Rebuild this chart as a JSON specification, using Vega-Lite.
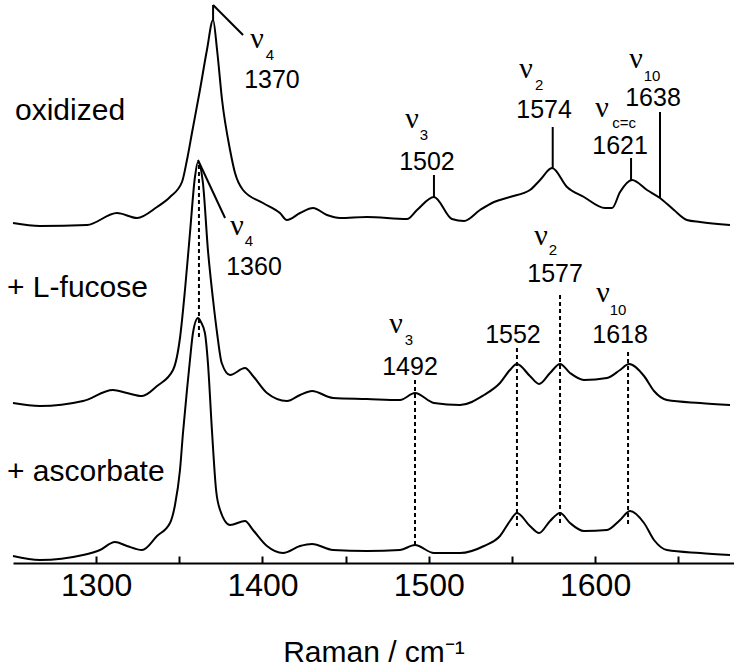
{
  "$schema": "https://vega.github.io/schema/vega-lite/v6.json",
  "width": 721,
  "height": 563,
  "autosize": {"type": "none"},
  "padding": {"left": 13, "top": 0, "right": 0, "bottom": 104},
  "background": "white",
  "config": {
    "view": {"stroke": null},
    "font": "Liberation Sans",
    "text": {"font": "Liberation Sans", "color": "black"}
  },
  "datasets": {
    "spectra": [
      {"sample": "oxidized", "wn": 1250, "intensity": 340},
      {"sample": "oxidized", "wn": 1266.2, "intensity": 337},
      {"sample": "oxidized", "wn": 1294.5, "intensity": 338},
      {"sample": "oxidized", "wn": 1312.5, "intensity": 350},
      {"sample": "oxidized", "wn": 1324.6, "intensity": 345},
      {"sample": "oxidized", "wn": 1336.6, "intensity": 356},
      {"sample": "oxidized", "wn": 1344.4, "intensity": 366},
      {"sample": "oxidized", "wn": 1351.6, "intensity": 381},
      {"sample": "oxidized", "wn": 1354.6, "intensity": 403},
      {"sample": "oxidized", "wn": 1357.6, "intensity": 430},
      {"sample": "oxidized", "wn": 1362.4, "intensity": 473},
      {"sample": "oxidized", "wn": 1366.6, "intensity": 513},
      {"sample": "oxidized", "wn": 1370.3, "intensity": 543},
      {"sample": "oxidized", "wn": 1372.7, "intensity": 513},
      {"sample": "oxidized", "wn": 1375.7, "intensity": 463},
      {"sample": "oxidized", "wn": 1380.5, "intensity": 413},
      {"sample": "oxidized", "wn": 1383.5, "intensity": 390},
      {"sample": "oxidized", "wn": 1388.3, "intensity": 373},
      {"sample": "oxidized", "wn": 1400.3, "intensity": 360},
      {"sample": "oxidized", "wn": 1410.5, "intensity": 350},
      {"sample": "oxidized", "wn": 1414.7, "intensity": 343},
      {"sample": "oxidized", "wn": 1422.6, "intensity": 350},
      {"sample": "oxidized", "wn": 1430.4, "intensity": 355},
      {"sample": "oxidized", "wn": 1438.8, "intensity": 348},
      {"sample": "oxidized", "wn": 1446.6, "intensity": 345},
      {"sample": "oxidized", "wn": 1462.8, "intensity": 346},
      {"sample": "oxidized", "wn": 1486.9, "intensity": 344},
      {"sample": "oxidized", "wn": 1492.9, "intensity": 353},
      {"sample": "oxidized", "wn": 1503.1, "intensity": 366},
      {"sample": "oxidized", "wn": 1513.9, "intensity": 344},
      {"sample": "oxidized", "wn": 1521.2, "intensity": 342},
      {"sample": "oxidized", "wn": 1530.8, "intensity": 353},
      {"sample": "oxidized", "wn": 1539.2, "intensity": 361},
      {"sample": "oxidized", "wn": 1548.8, "intensity": 366},
      {"sample": "oxidized", "wn": 1560.8, "intensity": 373},
      {"sample": "oxidized", "wn": 1566.9, "intensity": 383},
      {"sample": "oxidized", "wn": 1574.1, "intensity": 395},
      {"sample": "oxidized", "wn": 1583.1, "intensity": 376},
      {"sample": "oxidized", "wn": 1593.3, "intensity": 366},
      {"sample": "oxidized", "wn": 1605.9, "intensity": 355},
      {"sample": "oxidized", "wn": 1610.2, "intensity": 355},
      {"sample": "oxidized", "wn": 1615, "intensity": 371},
      {"sample": "oxidized", "wn": 1622.2, "intensity": 383},
      {"sample": "oxidized", "wn": 1631.2, "intensity": 373},
      {"sample": "oxidized", "wn": 1639, "intensity": 365},
      {"sample": "oxidized", "wn": 1647.4, "intensity": 353},
      {"sample": "oxidized", "wn": 1655.2, "intensity": 343},
      {"sample": "oxidized", "wn": 1663.1, "intensity": 341},
      {"sample": "oxidized", "wn": 1681.1, "intensity": 338},

      {"sample": "L-fucose", "wn": 1250, "intensity": 160},
      {"sample": "L-fucose", "wn": 1266.2, "intensity": 157},
      {"sample": "L-fucose", "wn": 1292.1, "intensity": 162},
      {"sample": "L-fucose", "wn": 1310.1, "intensity": 173},
      {"sample": "L-fucose", "wn": 1318.5, "intensity": 170},
      {"sample": "L-fucose", "wn": 1327.6, "intensity": 167},
      {"sample": "L-fucose", "wn": 1336.6, "intensity": 177},
      {"sample": "L-fucose", "wn": 1346.2, "intensity": 193},
      {"sample": "L-fucose", "wn": 1350.4, "intensity": 225},
      {"sample": "L-fucose", "wn": 1353.4, "intensity": 273},
      {"sample": "L-fucose", "wn": 1356.4, "intensity": 330},
      {"sample": "L-fucose", "wn": 1359.4, "intensity": 386},
      {"sample": "L-fucose", "wn": 1361.2, "intensity": 401},
      {"sample": "L-fucose", "wn": 1364.2, "intensity": 380},
      {"sample": "L-fucose", "wn": 1367.2, "intensity": 313},
      {"sample": "L-fucose", "wn": 1370.3, "intensity": 263},
      {"sample": "L-fucose", "wn": 1372.7, "intensity": 230},
      {"sample": "L-fucose", "wn": 1375.5, "intensity": 200},
      {"sample": "L-fucose", "wn": 1380.5, "intensity": 188},
      {"sample": "L-fucose", "wn": 1389.5, "intensity": 195},
      {"sample": "L-fucose", "wn": 1394.3, "intensity": 187},
      {"sample": "L-fucose", "wn": 1402.7, "intensity": 170},
      {"sample": "L-fucose", "wn": 1414.7, "intensity": 162},
      {"sample": "L-fucose", "wn": 1422.6, "intensity": 168},
      {"sample": "L-fucose", "wn": 1429.8, "intensity": 172},
      {"sample": "L-fucose", "wn": 1442.4, "intensity": 165},
      {"sample": "L-fucose", "wn": 1462.8, "intensity": 164},
      {"sample": "L-fucose", "wn": 1482.7, "intensity": 163},
      {"sample": "L-fucose", "wn": 1491.7, "intensity": 170},
      {"sample": "L-fucose", "wn": 1503.1, "intensity": 160},
      {"sample": "L-fucose", "wn": 1518.8, "intensity": 158},
      {"sample": "L-fucose", "wn": 1533.2, "intensity": 168},
      {"sample": "L-fucose", "wn": 1542.8, "intensity": 180},
      {"sample": "L-fucose", "wn": 1548.8, "intensity": 193},
      {"sample": "L-fucose", "wn": 1553, "intensity": 199},
      {"sample": "L-fucose", "wn": 1560.8, "intensity": 187},
      {"sample": "L-fucose", "wn": 1566.3, "intensity": 179},
      {"sample": "L-fucose", "wn": 1572.9, "intensity": 190},
      {"sample": "L-fucose", "wn": 1578.9, "intensity": 199},
      {"sample": "L-fucose", "wn": 1584.9, "intensity": 190},
      {"sample": "L-fucose", "wn": 1593.3, "intensity": 183},
      {"sample": "L-fucose", "wn": 1607.1, "intensity": 185},
      {"sample": "L-fucose", "wn": 1615, "intensity": 193},
      {"sample": "L-fucose", "wn": 1620.4, "intensity": 199},
      {"sample": "L-fucose", "wn": 1629.4, "intensity": 187},
      {"sample": "L-fucose", "wn": 1635.4, "intensity": 172},
      {"sample": "L-fucose", "wn": 1643.2, "intensity": 163},
      {"sample": "L-fucose", "wn": 1663.1, "intensity": 160},
      {"sample": "L-fucose", "wn": 1681.1, "intensity": 158},

      {"sample": "ascorbate", "wn": 1250, "intensity": 7},
      {"sample": "ascorbate", "wn": 1266.2, "intensity": 3},
      {"sample": "ascorbate", "wn": 1292.1, "intensity": 8},
      {"sample": "ascorbate", "wn": 1302.3, "intensity": 13},
      {"sample": "ascorbate", "wn": 1311.3, "intensity": 21},
      {"sample": "ascorbate", "wn": 1318.5, "intensity": 17},
      {"sample": "ascorbate", "wn": 1327.6, "intensity": 13},
      {"sample": "ascorbate", "wn": 1336.6, "intensity": 27},
      {"sample": "ascorbate", "wn": 1344.4, "intensity": 40},
      {"sample": "ascorbate", "wn": 1347.4, "intensity": 58},
      {"sample": "ascorbate", "wn": 1350.4, "intensity": 93},
      {"sample": "ascorbate", "wn": 1352.2, "intensity": 130},
      {"sample": "ascorbate", "wn": 1354.6, "intensity": 173},
      {"sample": "ascorbate", "wn": 1356.4, "intensity": 203},
      {"sample": "ascorbate", "wn": 1358.2, "intensity": 230},
      {"sample": "ascorbate", "wn": 1361.2, "intensity": 245},
      {"sample": "ascorbate", "wn": 1363, "intensity": 241},
      {"sample": "ascorbate", "wn": 1365.4, "intensity": 230},
      {"sample": "ascorbate", "wn": 1367.2, "intensity": 200},
      {"sample": "ascorbate", "wn": 1369.6, "intensity": 133},
      {"sample": "ascorbate", "wn": 1372.1, "intensity": 73},
      {"sample": "ascorbate", "wn": 1374.5, "intensity": 53},
      {"sample": "ascorbate", "wn": 1380.5, "intensity": 38},
      {"sample": "ascorbate", "wn": 1389.5, "intensity": 42},
      {"sample": "ascorbate", "wn": 1394.3, "intensity": 33},
      {"sample": "ascorbate", "wn": 1402.7, "intensity": 17},
      {"sample": "ascorbate", "wn": 1412.3, "intensity": 10},
      {"sample": "ascorbate", "wn": 1422.6, "intensity": 17},
      {"sample": "ascorbate", "wn": 1429.8, "intensity": 19},
      {"sample": "ascorbate", "wn": 1442.4, "intensity": 13},
      {"sample": "ascorbate", "wn": 1462.8, "intensity": 12},
      {"sample": "ascorbate", "wn": 1482.7, "intensity": 13},
      {"sample": "ascorbate", "wn": 1491.7, "intensity": 18},
      {"sample": "ascorbate", "wn": 1503.1, "intensity": 10},
      {"sample": "ascorbate", "wn": 1518.8, "intensity": 10},
      {"sample": "ascorbate", "wn": 1533.2, "intensity": 17},
      {"sample": "ascorbate", "wn": 1542.8, "intensity": 27},
      {"sample": "ascorbate", "wn": 1548.8, "intensity": 42},
      {"sample": "ascorbate", "wn": 1553, "intensity": 50},
      {"sample": "ascorbate", "wn": 1560.8, "intensity": 37},
      {"sample": "ascorbate", "wn": 1566.3, "intensity": 30},
      {"sample": "ascorbate", "wn": 1572.9, "intensity": 42},
      {"sample": "ascorbate", "wn": 1578.9, "intensity": 50},
      {"sample": "ascorbate", "wn": 1584.9, "intensity": 40},
      {"sample": "ascorbate", "wn": 1593.3, "intensity": 32},
      {"sample": "ascorbate", "wn": 1607.1, "intensity": 33},
      {"sample": "ascorbate", "wn": 1615, "intensity": 43},
      {"sample": "ascorbate", "wn": 1621, "intensity": 52},
      {"sample": "ascorbate", "wn": 1629.4, "intensity": 40},
      {"sample": "ascorbate", "wn": 1635.4, "intensity": 23},
      {"sample": "ascorbate", "wn": 1643.2, "intensity": 13},
      {"sample": "ascorbate", "wn": 1663.1, "intensity": 10},
      {"sample": "ascorbate", "wn": 1681.1, "intensity": 8}
    ],
    "solidRules": [
      {"wn": 1370.3, "wn2": 1370.3, "intensity": 543, "intensity2": 558},
      {"wn": 1370.3, "wn2": 1388.3, "intensity": 558, "intensity2": 528},
      {"wn": 1503.1, "wn2": 1503.1, "intensity": 366, "intensity2": 388},
      {"wn": 1574.5, "wn2": 1574.5, "intensity": 395, "intensity2": 436},
      {"wn": 1621.6, "wn2": 1621.6, "intensity": 383, "intensity2": 405},
      {"wn": 1639, "wn2": 1639, "intensity": 365, "intensity2": 451},
      {"wn": 1361.2, "wn2": 1377.5, "intensity": 403, "intensity2": 345}
    ],
    "dashRules": [
      {"wn": 1361.8, "intensity": 398, "intensity2": 223},
      {"wn": 1491.7, "intensity": 183, "intensity2": 15},
      {"wn": 1553, "intensity": 215, "intensity2": 37},
      {"wn": 1578.9, "intensity": 268, "intensity2": 38},
      {"wn": 1619.8, "intensity": 211, "intensity2": 38}
    ],
    "numbers": [
      {"wn": 1405.7, "intensity": 475, "label": "1370"},
      {"wn": 1498.9, "intensity": 393, "label": "1502"},
      {"wn": 1569.3, "intensity": 445, "label": "1574"},
      {"wn": 1615, "intensity": 409, "label": "1621"},
      {"wn": 1634.8, "intensity": 457, "label": "1638"},
      {"wn": 1394.9, "intensity": 288, "label": "1360"},
      {"wn": 1488.7, "intensity": 188, "label": "1492"},
      {"wn": 1550.6, "intensity": 220, "label": "1552"},
      {"wn": 1575.9, "intensity": 281, "label": "1577"},
      {"wn": 1615, "intensity": 220, "label": "1618"}
    ],
    "nus": [
      {"wn": 1396.7, "intensity": 515, "label": "ν"},
      {"wn": 1489.9, "intensity": 435, "label": "ν"},
      {"wn": 1558.4, "intensity": 485, "label": "ν"},
      {"wn": 1604.1, "intensity": 446, "label": "ν"},
      {"wn": 1624.6, "intensity": 495, "label": "ν"},
      {"wn": 1384.7, "intensity": 328, "label": "ν"},
      {"wn": 1480.3, "intensity": 230, "label": "ν"},
      {"wn": 1567.5, "intensity": 318, "label": "ν"},
      {"wn": 1604.7, "intensity": 261, "label": "ν"}
    ],
    "subs": [
      {"wn": 1404.5, "intensity": 503, "label": "4"},
      {"wn": 1497.1, "intensity": 423, "label": "3"},
      {"wn": 1566.3, "intensity": 473, "label": "2"},
      {"wn": 1617.4, "intensity": 435, "label": "c=c"},
      {"wn": 1634.2, "intensity": 482, "label": "10"},
      {"wn": 1391.9, "intensity": 317, "label": "4"},
      {"wn": 1488.1, "intensity": 218, "label": "3"},
      {"wn": 1574.7, "intensity": 308, "label": "2"},
      {"wn": 1613.8, "intensity": 248, "label": "10"}
    ],
    "names": [
      {"wn": 1251.2, "intensity": 443, "label": "oxidized"},
      {"wn": 1246.4, "intensity": 266, "label": "+ L-fucose"},
      {"wn": 1246.4, "intensity": 82, "label": "+ ascorbate"}
    ]
  },
  "layer": [
    {
      "data": {"name": "spectra"},
      "mark": {"type": "line", "color": "black", "strokeWidth": 2, "clip": false, "interpolate": "monotone"},
      "encoding": {
        "x": {
          "field": "wn", "type": "quantitative",
          "scale": {"domain": [1250, 1683.5], "nice": false, "zero": false},
          "axis": {
            "values": [1300, 1350, 1400, 1450, 1500, 1550, 1600, 1650],
            "format": "d",
            "labelExpr": "datum.value % 100 === 0 ? datum.label : ''",
            "grid": false,
            "domainColor": "black",
            "domainWidth": 2,
            "tickColor": "black",
            "tickWidth": 2,
            "tickSize": -7,
            "labelFont": "Liberation Sans",
            "labelFontSize": 32,
            "labelColor": "black",
            "labelPadding": 14,
            "labelFlush": false,
            "labelOverlap": false,
            "title": "Raman / cm⁻¹",
            "titleFont": "Liberation Sans",
            "titleFontSize": 30,
            "titleFontWeight": "normal",
            "titleColor": "black",
            "titlePadding": 36
          }
        },
        "y": {
          "field": "intensity", "type": "quantitative",
          "scale": {"domain": [0, 563], "nice": false, "zero": false},
          "axis": null
        },
        "detail": {"field": "sample", "type": "nominal"}
      }
    },
    {
      "data": {"name": "solidRules"},
      "mark": {"type": "rule", "color": "black", "strokeWidth": 2},
      "encoding": {
        "x": {"field": "wn", "type": "quantitative"},
        "x2": {"field": "wn2"},
        "y": {"field": "intensity", "type": "quantitative"},
        "y2": {"field": "intensity2"}
      }
    },
    {
      "data": {"name": "dashRules"},
      "mark": {"type": "rule", "color": "black", "strokeWidth": 2, "strokeDash": [4, 3]},
      "encoding": {
        "x": {"field": "wn", "type": "quantitative"},
        "y": {"field": "intensity", "type": "quantitative"},
        "y2": {"field": "intensity2"}
      }
    },
    {
      "data": {"name": "numbers"},
      "mark": {"type": "text", "fontSize": 25, "align": "center", "baseline": "alphabetic", "font": "Liberation Sans"},
      "encoding": {
        "x": {"field": "wn", "type": "quantitative"},
        "y": {"field": "intensity", "type": "quantitative"},
        "text": {"field": "label"}
      }
    },
    {
      "data": {"name": "nus"},
      "mark": {"type": "text", "fontSize": 30, "align": "center", "baseline": "alphabetic", "font": "Liberation Serif"},
      "encoding": {
        "x": {"field": "wn", "type": "quantitative"},
        "y": {"field": "intensity", "type": "quantitative"},
        "text": {"field": "label"}
      }
    },
    {
      "data": {"name": "subs"},
      "mark": {"type": "text", "fontSize": 15, "align": "center", "baseline": "alphabetic", "font": "Liberation Sans"},
      "encoding": {
        "x": {"field": "wn", "type": "quantitative"},
        "y": {"field": "intensity", "type": "quantitative"},
        "text": {"field": "label"}
      }
    },
    {
      "data": {"name": "names"},
      "mark": {"type": "text", "fontSize": 30, "align": "left", "baseline": "alphabetic", "font": "Liberation Sans"},
      "encoding": {
        "x": {"field": "wn", "type": "quantitative"},
        "y": {"field": "intensity", "type": "quantitative"},
        "text": {"field": "label"}
      }
    }
  ]
}
